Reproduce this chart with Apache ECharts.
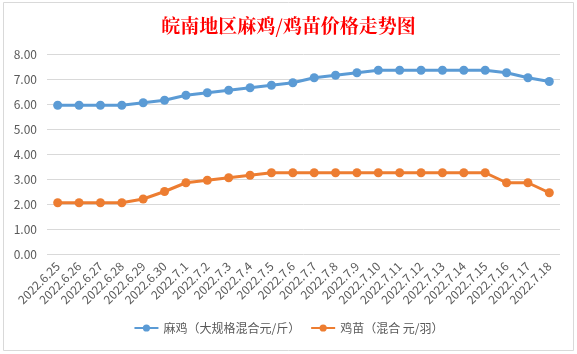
<!DOCTYPE html>
<html><head><meta charset="utf-8">
<script src="https://cdn.jsdelivr.net/npm/echarts@6/dist/echarts.min.js"></script>
<style>html,body{margin:0;padding:0;background:#fff}#c{width:577px;height:354px}</style>
</head><body><div id="c"></div>
<script>
const categories = ['2022.6.25','2022.6.26','2022.6.27','2022.6.28','2022.6.29','2022.6.30','2022.7.1','2022.7.2','2022.7.3','2022.7.4','2022.7.5','2022.7.6','2022.7.7','2022.7.8','2022.7.9','2022.7.10','2022.7.11','2022.7.12','2022.7.13','2022.7.14','2022.7.15','2022.7.16','2022.7.17','2022.7.18'];
const maji = [5.95,5.95,5.95,5.95,6.05,6.15,6.35,6.45,6.55,6.65,6.75,6.85,7.05,7.15,7.25,7.35,7.35,7.35,7.35,7.35,7.35,7.25,7.05,6.9];
const jimiao = [2.05,2.05,2.05,2.05,2.2,2.5,2.85,2.95,3.05,3.15,3.25,3.25,3.25,3.25,3.25,3.25,3.25,3.25,3.25,3.25,3.25,2.85,2.85,2.45];
const seriesNames = ['麻鸡（大规格混合元/斤）','鸡苗（混合 元/羽）'];
const titleText = '皖南地区麻鸡/鸡苗价格走势图';

const chart = echarts.init(document.getElementById('c'));
const font = '"Microsoft YaHei","Noto Sans CJK SC",sans-serif';
chart.setOption({
  animation:false,
  backgroundColor:'#fff',
  title:{text:titleText,left:'center',top:11,textStyle:{color:'#ff0000',fontSize:19,fontWeight:'bold',fontFamily:'"Noto Serif CJK SC","Noto Sans CJK SC",serif'}},
  graphic:[{type:'rect',shape:{x:3.5,y:2.5,width:570,height:348},style:{fill:'none',stroke:'#d9d9d9',lineWidth:1},z:-1}],
  legend:{bottom:15,left:'center',itemWidth:24,itemHeight:9,itemGap:10,
    textStyle:{color:'#595959',fontSize:12,fontFamily:font},
    data:seriesNames},
  grid:{left:47,right:17,top:54,bottom:100,containLabel:false},
  xAxis:{type:'category',data:categories,boundaryGap:true,
    axisLine:{show:false},axisTick:{show:false},
    axisLabel:{rotate:45,interval:0,color:'#595959',fontSize:12,fontFamily:font,margin:10}},
  yAxis:{type:'value',min:0,max:8,interval:1,
    axisLine:{show:false},axisTick:{show:false},
    axisLabel:{formatter:v=>v.toFixed(2),color:'#595959',fontSize:12,fontFamily:font,margin:10},
    splitLine:{lineStyle:{color:'#d9d9d9',width:1}}},
  series:[
    {name:seriesNames[0],type:'line',data:maji,symbol:'circle',symbolSize:9,
     lineStyle:{color:'#5b9bd5',width:3},itemStyle:{color:'#5b9bd5'}},
    {name:seriesNames[1],type:'line',data:jimiao,symbol:'circle',symbolSize:9,
     lineStyle:{color:'#ed7d31',width:3},itemStyle:{color:'#ed7d31'}}
  ]
});
</script></body></html>
